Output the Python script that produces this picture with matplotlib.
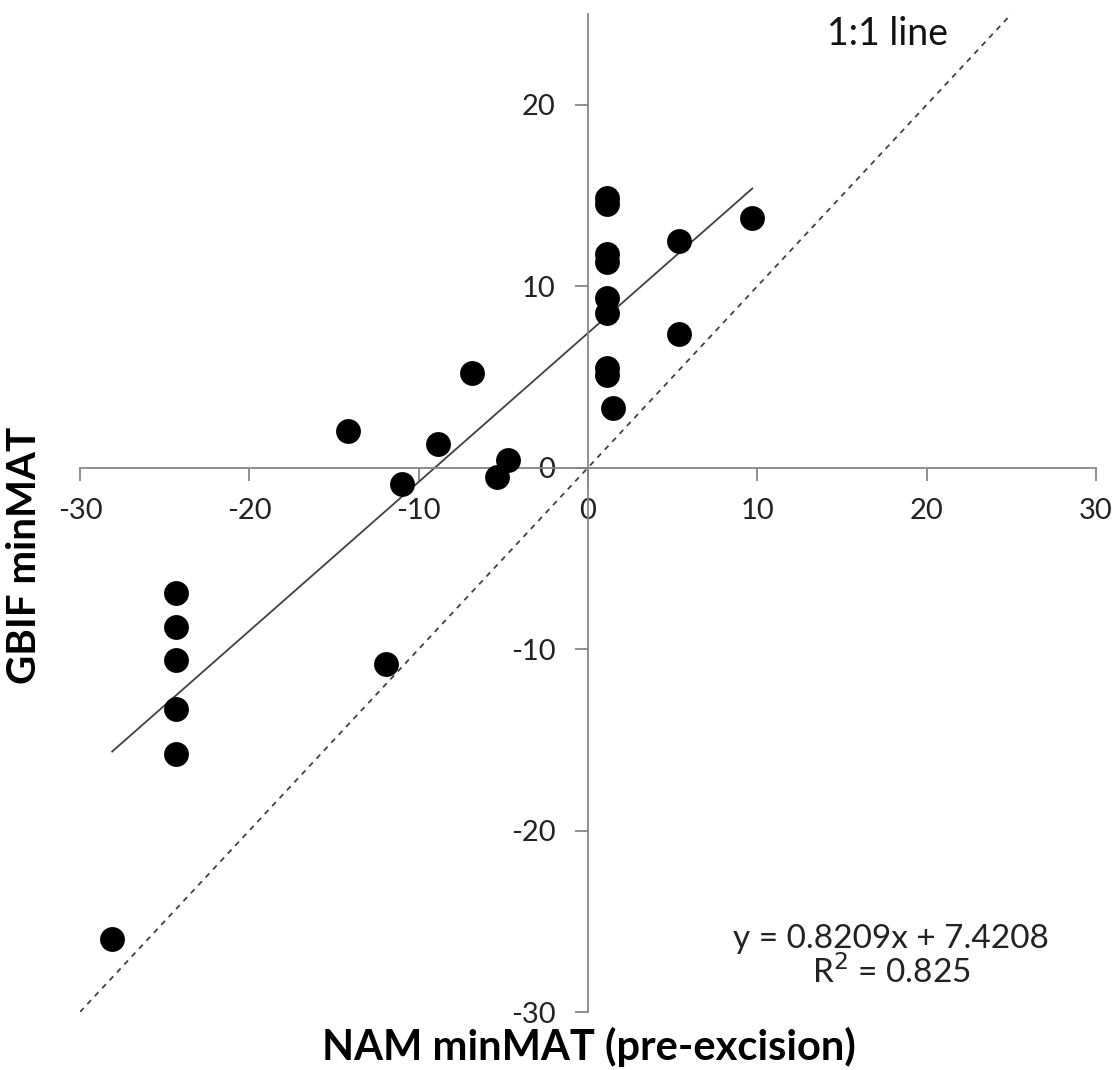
import numpy as np
import matplotlib.pyplot as plt

# NAM minMAT (pre-excision) vs GBIF minMAT
nam_minmat = [-28.1, -24.3, -24.3, -24.3, -24.3, -24.3, -11.9, -14.2, -11.0,
              -8.85, -6.85, -5.4, -4.7,
              1.1, 1.1, 1.1, 1.1, 1.1, 1.1, 1.1, 1.1,
              1.5, 5.4, 5.4, 9.7]
gbif_minmat = [-26.0, -6.9, -8.8, -10.6, -13.3, -15.8, -10.8, 2.0, -0.9,
               1.3, 5.2, -0.5, 0.4,
               14.85, 14.55, 11.77, 11.33, 9.34, 8.5, 5.47, 5.08,
               3.3, 12.5, 7.35, 13.75]

slope = 0.8209
intercept = 7.4208
r2 = 0.825

x_ticks = [-30, -20, -10, 0, 10, 20, 30]
y_ticks = [-30, -20, -10, 0, 10, 20]

plt.rcParams['font.family'] = ['Lato', 'DejaVu Sans']
plt.rcParams['axes.unicode_minus'] = False

fig = plt.figure(figsize=(11.2, 10.7), dpi=100)
ax = fig.add_axes([0.0714, 0.0542, 0.9072, 0.9327])

axis_grey = '#868686'

# 1:1 line
ax.plot([-30, 25], [-30, 25], ls=(0, (3, 3)), c='#404040', lw=1.3)

# trend line over the range of the data
x_fit = np.array([min(nam_minmat), max(nam_minmat)])
ax.plot(x_fit, slope * x_fit + intercept, c='#404040', lw=1.3)

ax.scatter(nam_minmat, gbif_minmat, s=320, c='black', zorder=3, linewidths=0)

ax.set_xlim(-30, 30)
ax.set_ylim(-30, 25)

ax.spines['left'].set_position(('data', 0))
ax.spines['bottom'].set_position(('data', 0))
ax.spines['right'].set_visible(False)
ax.spines['top'].set_visible(False)
ax.spines['left'].set_bounds(-30, 25)
for s in ['left', 'bottom']:
    ax.spines[s].set_color(axis_grey)
    ax.spines[s].set_linewidth(1.3)

ax.set_xticks(x_ticks)
ax.set_yticks(y_ticks)
ax.tick_params(axis='both', direction='out', length=9.5, width=1.3,
               color=axis_grey, labelsize=21, labelcolor='#222222')
ax.tick_params(axis='x', pad=12)
ax.tick_params(axis='y', pad=14)

ax.text(17.7, 23.9, '1:1 line', fontsize=27, ha='center', va='center', color='#111111')
ax.text(17.9, -26.0, 'y = 0.8209x + 7.4208', fontsize=24, ha='center', va='center', color='#222222')
ax.text(17.9, -27.8, 'R$^2$ = %.3f' % r2, fontsize=24, ha='center', va='center', color='#222222')

fig.text(0.526, 0.022, 'NAM minMAT (pre-excision)', fontsize=30, fontweight='bold',
         ha='center', va='center')
fig.text(0.022, 0.481, 'GBIF minMAT', fontsize=29, fontweight='bold',
         ha='center', va='center', rotation=90)

plt.savefig('out.png', dpi=100)
